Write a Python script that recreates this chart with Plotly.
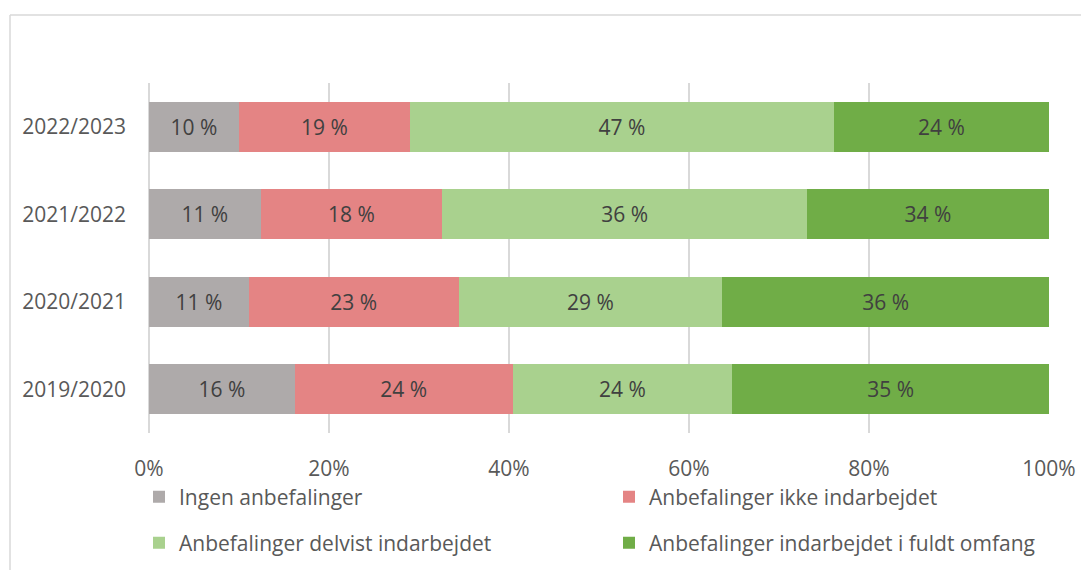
import plotly.graph_objects as go

years = ["2019/2020", "2020/2021", "2021/2022", "2022/2023"]
series_names = [
    "Ingen anbefalinger",
    "Anbefalinger ikke indarbejdet",
    "Anbefalinger delvist indarbejdet",
    "Anbefalinger indarbejdet i fuldt omfang",
]
# bar lengths (percent of total)
ingen = [16.2, 11.1, 12.4, 10.0]
ikke = [24.2, 23.3, 20.2, 19.0]
delvist = [24.4, 29.3, 40.5, 47.1]
fuldt = [35.2, 36.3, 26.9, 23.9]
# data labels as printed in the chart
ingen_lbl = ["16 %", "11 %", "11 %", "10 %"]
ikke_lbl = ["24 %", "23 %", "18 %", "19 %"]
delvist_lbl = ["24 %", "29 %", "36 %", "47 %"]
fuldt_lbl = ["35 %", "36 %", "34 %", "24 %"]
x_ticks = [0, 20, 40, 60, 80, 100]
x_tick_labels = ["0%", "20%", "40%", "60%", "80%", "100%"]

colors = ["#AEAAAA", "#E48484", "#A9D18E", "#70AD47"]
values = [ingen, ikke, delvist, fuldt]
labels = [ingen_lbl, ikke_lbl, delvist_lbl, fuldt_lbl]
legend_ids = ["legend", "legend2", "legend3", "legend4"]

FONT = "Open Sans"
FS = 21
OFF = 8  # page body margin

fig = go.Figure()
for name, v, lbl, c, lg in zip(series_names, values, labels, colors, legend_ids):
    fig.add_trace(go.Bar(
        y=years, x=v, name=name, orientation="h",
        marker=dict(color=c, line=dict(width=0)),
        text=lbl, textposition="inside", insidetextanchor="middle",
        textangle=0, constraintext="none",
        textfont=dict(family=FONT, size=FS, color="#404040"),
        legend=lg, hoverinfo="skip",
    ))

W, H = 1089 - OFF, 570 - OFF
L, T = 149 - OFF, 83 - OFF
pw, ph = 900, 350
R, B = W - L - pw, H - T - ph

def px_x(p):
    return (p - OFF - L) / pw

def px_y(p):
    return (T + ph - (p - OFF)) / ph

line_col = "#D9D9D9"

def leg(xp, yp):
    return dict(
        orientation="h", x=px_x(xp), xanchor="left",
        y=px_y(yp), yanchor="middle",
        font=dict(family=FONT, size=FS, color="#595959"),
        bgcolor="rgba(0,0,0,0)", borderwidth=0,
    )

fig.update_layout(
    width=W, height=H,
    margin=dict(l=L, r=R, t=T, b=B, pad=0, autoexpand=False),
    barmode="stack", bargap=0.43,
    plot_bgcolor="white", paper_bgcolor="white",
    font=dict(family=FONT, size=FS, color="#595959"),
    xaxis=dict(
        range=[0, 100], tickvals=x_ticks, ticktext=x_tick_labels,
        showgrid=True, gridcolor=line_col, gridwidth=1.5,
        zeroline=True, zerolinecolor=line_col, zerolinewidth=1.5,
        showline=False, ticks="", ticklabelstandoff=21,
        tickfont=dict(family=FONT, size=FS, color="#595959"),
        automargin=False, fixedrange=True,
    ),
    yaxis=dict(
        categoryorder="array", categoryarray=years,
        showgrid=False, zeroline=False, showline=False, ticks="",
        ticklabelstandoff=22,
        tickfont=dict(family=FONT, size=FS, color="#595959"),
        automargin=False, fixedrange=True,
    ),
    legend=leg(139, 497),
    legend2=leg(609, 497),
    legend3=leg(139, 543),
    legend4=leg(609, 543),
    showlegend=True,
    shapes=[
        dict(type="line", xref="paper", yref="paper",
             x0=px_x(10), x1=px_x(1095), y0=px_y(15), y1=px_y(15),
             line=dict(color=line_col, width=1.5)),
        dict(type="line", xref="paper", yref="paper",
             x0=px_x(10), x1=px_x(10), y0=px_y(15), y1=px_y(575),
             line=dict(color=line_col, width=1.5)),
    ],
)

fig.write_html("out.html")
